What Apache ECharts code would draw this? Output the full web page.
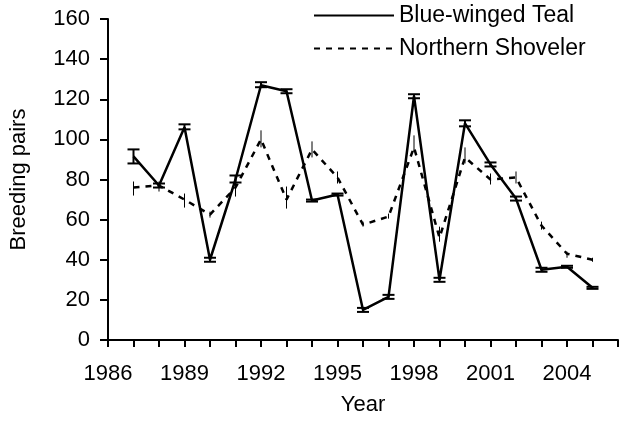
<!DOCTYPE html>
<html>
<head>
<meta charset="utf-8">
<script src="https://cdn.jsdelivr.net/npm/echarts@6/dist/echarts.min.js"></script>
<style>
  html, body { margin: 0; padding: 0; background: #fff; }
  #chart { width: 621px; height: 421px; }
</style>
</head>
<body>
<div id="chart"></div>
<script>
var years = [1987, 1988, 1989, 1990, 1991, 1992, 1993, 1994, 1995, 1996,
             1997, 1998, 1999, 2000, 2001, 2002, 2003, 2004, 2005];

// Blue-winged Teal: mean, lower and upper error bar
var teal     = [91.5, 77, 106, 40, 80, 127, 124, 69.5, 72.5, 15, 21.5, 121.5, 30, 108, 87.5, 70.5, 35, 36.5, 26];
var tealLow  = [88, 76, 105, 39, 78.5, 126, 123, 69, 72, 14, 20.5, 120.5, 29, 106.5, 86.5, 69.5, 34, 36, 25.5];
var tealHigh = [95, 78, 107.5, 41, 82, 128.5, 125, 70, 73, 16, 22.5, 122.5, 31, 109.5, 88.5, 71.5, 36, 37, 26.5];

// Northern Shoveler
var shov     = [76, 77, 70, 62.5, 76, 100, 70, 95, 81, 57.5, 61.5, 96, 51, 91, 80, 81, 57, 43, 40];
var shovLow  = [72, 74, 66, 61, 71.5, 96, 65.5, 91, 78, 56.5, 60.5, 94, 49, 88, 77.5, 78, 55, 41, 39];
var shovHigh = [79, 79, 73, 64, 80, 104.5, 76.5, 99, 84, 59, 63, 102, 56.5, 96, 83, 84, 59, 44, 41];

var chart = echarts.init(document.getElementById('chart'));

function pairs(ys) {
    return years.map(function (y, i) { return [y, ys[i]]; });
}
function bars(lo, hi) {
    return years.map(function (y, i) { return [y, lo[i], hi[i]]; });
}

function errorBar(capWidth, width) {
    return function (params, api) {
        var lo = api.coord([api.value(0), api.value(1)]);
        var hi = api.coord([api.value(0), api.value(2)]);
        var st = { stroke: '#000', lineWidth: width };
        var kids = [{ type: 'line', shape: { x1: lo[0], y1: lo[1], x2: hi[0], y2: hi[1] }, style: st }];
        if (capWidth > 0) {
            kids.push({ type: 'line', shape: { x1: lo[0] - capWidth / 2, y1: lo[1], x2: lo[0] + capWidth / 2, y2: lo[1] }, style: st });
            kids.push({ type: 'line', shape: { x1: hi[0] - capWidth / 2, y1: hi[1], x2: hi[0] + capWidth / 2, y2: hi[1] }, style: st });
        }
        return { type: 'group', children: kids };
    };
}

var font = 'Liberation Sans, Arial, sans-serif';

option = {
    animation: false,
    backgroundColor: '#fff',
    textStyle: { fontFamily: font },
    legend: {
        data: ['Blue-winged Teal', 'Northern Shoveler'],
        orient: 'vertical',
        left: 313,
        top: 4,
        padding: 0,
        itemWidth: 80,
        itemHeight: 22,
        itemGap: 10,
        itemStyle: { opacity: 0 },
        textStyle: { fontSize: 23, lineHeight: 22, color: '#000', fontFamily: font }
    },
    grid: {
        left: 108,
        right: 2,
        top: 19,
        bottom: 80
    },
    xAxis: {
        type: 'value',
        min: 1986,
        max: 2006,
        interval: 1,
        name: 'Year',
        nameLocation: 'middle',
        nameGap: 54,
        nameTextStyle: { fontSize: 22, color: '#000', fontFamily: font },
        splitLine: { show: false },
        axisLine: { lineStyle: { color: '#000', width: 2 } },
        axisTick: { length: 7, lineStyle: { color: '#000', width: 2 } },
        axisLabel: {
            fontSize: 22, color: '#000', margin: 23, fontFamily: font,
            formatter: function (v) { return (v - 1986) % 3 === 0 ? String(v) : ''; }
        }
    },
    yAxis: {
        type: 'value',
        min: 0,
        max: 160,
        interval: 20,
        name: 'Breeding pairs',
        nameLocation: 'middle',
        nameGap: 78,
        nameTextStyle: { fontSize: 22, color: '#000', fontFamily: font },
        splitLine: { show: false },
        axisLine: { show: true, lineStyle: { color: '#000', width: 2 } },
        axisTick: { show: true, length: 8, lineStyle: { color: '#000', width: 2 } },
        axisLabel: { fontSize: 22, color: '#000', margin: 18, fontFamily: font }
    },
    series: [
        {
            name: 'Northern Shoveler',
            type: 'line',
            data: pairs(shov),
            symbol: 'none',
            lineStyle: { color: '#000', width: 2.5, type: [6, 6] },
            itemStyle: { color: '#000' },
            z: 2
        },
        {
            type: 'custom',
            data: bars(shovLow, shovHigh),
            renderItem: errorBar(0, 1),
            z: 2
        },
        {
            name: 'Blue-winged Teal',
            type: 'line',
            data: pairs(teal),
            symbol: 'none',
            lineStyle: { color: '#000', width: 2.5 },
            itemStyle: { color: '#000' },
            z: 3
        },
        {
            type: 'custom',
            data: bars(tealLow, tealHigh),
            renderItem: errorBar(12, 2),
            z: 3
        }
    ]
};
chart.setOption(option);
</script>
</body>
</html>
